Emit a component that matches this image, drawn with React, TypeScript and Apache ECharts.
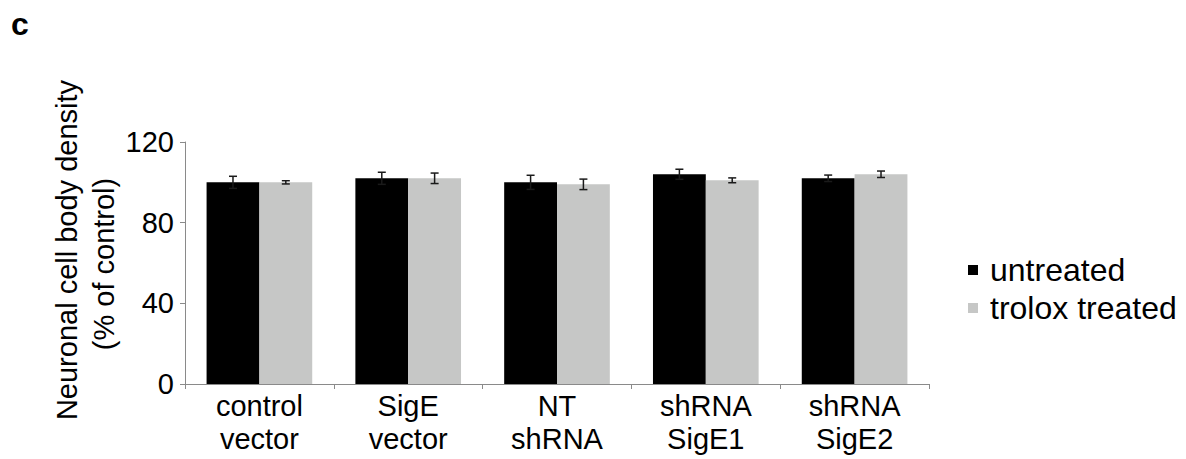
import React, { useEffect, useRef } from "react";
import * as echarts from "echarts";

const categories = ["control\nvector", "SigE\nvector", "NT\nshRNA", "shRNA\nSigE1", "shRNA\nSigE2"];
const untreated = [100, 102, 100, 104, 102];
const untreatedErr = [3, 3, 3.5, 2.5, 1.6];
const trolox = [100, 102, 99, 101, 104];
const troloxErr = [0.8, 2.6, 2.6, 1.2, 1.6];
const yTicks = { min: 0, max: 120, interval: 40 };

const FONT = "'Liberation Sans', Arial, Helvetica, sans-serif";
const AXIS_COLOR = "#8a8a8a";
const GREY = "#c6c7c6";
const CAT_GAP = 0.29;

function errorSeries(values: number[], errs: number[], side: number) {
  return {
    type: "custom",
    z: 5,
    silent: true,
    data: values.map((v, i) => [i, v, errs[i]]),
    renderItem: (params: any, api: any) => {
      const idx = api.value(0);
      const val = api.value(1);
      const err = api.value(2);
      const catW = api.size([1, 0])[0];
      const barW = (catW * (1 - CAT_GAP)) / 2;
      const x = api.coord([idx, val])[0] + side * barW / 2;
      const yHi = api.coord([idx, val + err])[1];
      const yLo = api.coord([idx, val - err])[1];
      const cap = 4;
      const style = { stroke: "#1a1a1a", lineWidth: 1.5, fill: "none" };
      return {
        type: "group",
        children: [
          { type: "line", shape: { x1: x, y1: yHi, x2: x, y2: yLo }, style },
          { type: "line", shape: { x1: x - cap, y1: yHi, x2: x + cap, y2: yHi }, style },
          { type: "line", shape: { x1: x - cap, y1: yLo, x2: x + cap, y2: yLo }, style },
        ],
      };
    },
  };
}

export default function App() {
  const ref = useRef<HTMLDivElement>(null);
  useEffect(() => {
    if (!ref.current) return;
    const chart = echarts.init(ref.current, null, { renderer: "svg" });
    chart.setOption({
      animation: false,
      backgroundColor: "#ffffff",
      textStyle: { fontFamily: FONT, color: "#000" },
      grid: { left: 185, right: 257, top: 142, bottom: 75, containLabel: false },
      legend: {
        orient: "vertical",
        left: 963,
        top: 249,
        icon: "rect",
        itemWidth: 10,
        itemHeight: 10,
        itemGap: 6,
        data: ["untreated", "trolox treated"],
        textStyle: { fontFamily: FONT, fontSize: 32, color: "#000", lineHeight: 32, padding: [0, 0, 0, 7] },
      },
      xAxis: {
        type: "category",
        data: categories,
        axisLine: { show: true, lineStyle: { color: AXIS_COLOR, width: 1 } },
        axisTick: { show: true, length: 5, lineStyle: { color: AXIS_COLOR } },
        axisLabel: { fontFamily: FONT, fontSize: 29, color: "#000", lineHeight: 33, margin: 5, interval: 0 },
        splitLine: { show: false },
      },
      yAxis: {
        type: "value",
        min: yTicks.min,
        max: yTicks.max,
        interval: yTicks.interval,
        axisLine: { show: true, lineStyle: { color: AXIS_COLOR, width: 1 } },
        axisTick: { show: true, length: 5, lineStyle: { color: AXIS_COLOR } },
        axisLabel: { fontFamily: FONT, fontSize: 29, color: "#000", margin: 11 },
        splitLine: { show: false },
      },
      graphic: [
        {
          type: "text",
          x: 11,
          y: 24,
          style: {
            text: "c",
            fontFamily: FONT,
            fontSize: 32,
            fontWeight: "bold",
            fill: "#000",
            align: "left",
            verticalAlign: "middle",
          },
        },
        {
          type: "text",
          x: 67,
          y: 250,
          rotation: Math.PI / 2,
          style: {
            text: "Neuronal cell body density",
            fontFamily: FONT,
            fontSize: 29,
            fill: "#000",
            align: "center",
            verticalAlign: "middle",
          },
        },
        {
          type: "text",
          x: 104,
          y: 264,
          rotation: Math.PI / 2,
          style: {
            text: "(% of control)",
            fontFamily: FONT,
            fontSize: 29,
            fill: "#000",
            align: "center",
            verticalAlign: "middle",
          },
        },
      ],
      series: [
        {
          name: "untreated",
          type: "bar",
          data: untreated,
          barGap: "0%",
          barCategoryGap: `${CAT_GAP * 100}%`,
          itemStyle: { color: "#000000" },
        },
        {
          name: "trolox treated",
          type: "bar",
          data: trolox,
          barGap: "0%",
          barCategoryGap: `${CAT_GAP * 100}%`,
          itemStyle: { color: GREY },
        },
        errorSeries(untreated, untreatedErr, -1),
        errorSeries(trolox, troloxErr, 1),
      ],
    });
    return () => chart.dispose();
  }, []);
  return <div ref={ref} style={{ position: "fixed", left: 0, top: 0, width: 1186, height: 459 }} />;
}
